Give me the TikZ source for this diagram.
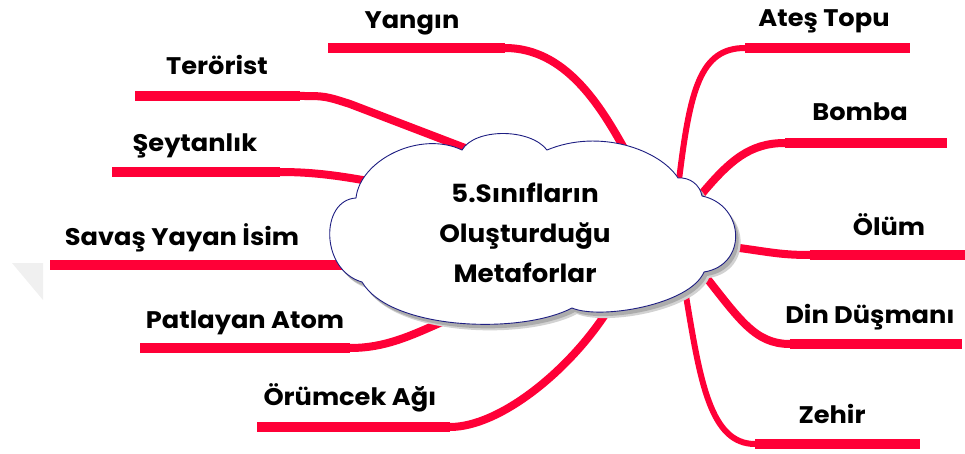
\documentclass[tikz,border=0pt]{standalone}
\usepackage{fontspec}
\setmainfont{Poppins}
\newfontfamily\lblfont[FakeStretch=1.07]{Poppins}
\newfontfamily\ttlfont[FakeStretch=1.05]{Poppins}
\usetikzlibrary{shapes.symbols}
\definecolor{branch}{RGB}{255,0,55}
\definecolor{cloudline}{RGB}{30,30,130}
\tikzset{
  lbl/.style={font=\lblfont\bfseries\fontsize{24}{24}\selectfont, inner sep=0pt, anchor=base},
  ctext/.style={font=\ttlfont\bfseries\fontsize{25}{40}\selectfont, align=center, inner sep=0pt, anchor=base},
  thin branch/.style={draw=branch, line width=8pt, line cap=butt},
  slim branch/.style={draw=branch, line width=6pt, line cap=butt},
  thick branch/.style={draw=branch, line width=10.5pt, line cap=butt},
  cloudpath/.style={insert path={
    (356,198) .. controls (360,160) and (420,130) .. (462,150)
    .. controls (475,128) and (530,128) .. (547,150)
    .. controls (600,128) and (660,150) .. (678,178)
    .. controls (690,177) and (700,185) .. (702,196)
    .. controls (745,205) and (748,265) .. (704,272)
    .. controls (690,305) and (600,320) .. (572,308)
    .. controls (520,335) and (390,330) .. (362,282)
    .. controls (320,270) and (320,200) .. (356,198) -- cycle}},
}
\begin{document}
\begin{tikzpicture}[x=1pt,y=-1pt]
\useasboundingbox (0,0) rectangle (965,454);
\fill[gray!12] (12,263) -- (43,263) -- (43,300) -- cycle;

% label nodes
\node[lbl] (yangin) at (412,29) {Yangın};
\node[lbl] (terorist) at (217,75) {Terörist};
\node[lbl] (seytan) at (195,152) {Şeytanlık};
\node[lbl] (savas) at (182,245) {Savaş Yayan İsim};
\node[lbl] (patlayan) at (245,328) {Patlayan Atom};
\node[lbl] (orumcek) at (350,405) {Örümcek Ağı};
\node[lbl] (ates) at (824,27) {Ateş Topu};
\node[lbl] (bomba) at (860,121) {Bomba};
\node[lbl] (olum) at (889,236) {Ölüm};
\node[lbl] (din) at (870,323) {Din Düşmanı};
\node[lbl] (zehir) at (832,423) {Zehir};

% branch coordinates
\coordinate (yA) at (328,48); \coordinate (yB) at (505,48); \coordinate (yC) at (625,150);
\coordinate (tA) at (135,96); \coordinate (tB) at (300,96); \coordinate (tC) at (465,148);
\coordinate (sA) at (112,172); \coordinate (sB) at (280,172); \coordinate (sC) at (368,181);
\coordinate (vA) at (50,265); \coordinate (vC) at (350,265);
\coordinate (pA) at (140,348); \coordinate (pB) at (350,348); \coordinate (pC) at (442,322);
\coordinate (oA) at (257,427); \coordinate (oB) at (450,427); \coordinate (oC) at (608,310);
\coordinate (aA) at (910,48); \coordinate (aB) at (745,48); \coordinate (aC) at (679,180);
\coordinate (bA) at (947,143); \coordinate (bB) at (785,143); \coordinate (bC) at (700,196);
\coordinate (mA) at (965,255); \coordinate (mB) at (810,255); \coordinate (mC) at (732,247);
\coordinate (dA) at (962,344); \coordinate (dB) at (790,344); \coordinate (dC) at (702,272);
\coordinate (zA) at (920,444); \coordinate (zB) at (755,444); \coordinate (zC) at (686,296);

% branches
\draw[thin branch] (yB) .. controls (565,48) and (600,105) .. (yC);
\draw[thick branch] (yA) -- (yB);
\draw[thin branch] (tB) .. controls (325,96) .. (350,104) -- (tC);
\draw[thick branch] (tA) -- (tB);
\draw[thin branch] (sB) .. controls (310,172) and (335,175) .. (sC);
\draw[thick branch] (sA) -- (sB);
\draw[thick branch] (vA) -- (vC);
\draw[thin branch] (pB) .. controls (385,348) and (410,336) .. (pC);
\draw[thick branch] (pA) -- (pB);
\draw[thin branch] (oB) .. controls (500,427) and (570,370) .. (oC);
\draw[thick branch] (oA) -- (oB);
\draw[slim branch] (aC) .. controls (690,90) and (700,48) .. (aB);
\draw[thick branch] (aB) -- (aA);
\draw[thin branch] (bC) .. controls (730,160) and (750,143) .. (bB);
\draw[thick branch] (bB) -- (bA);
\draw[thin branch] (mC) .. controls (770,252) and (780,255) .. (mB);
\draw[thick branch] (mB) -- (mA);
\draw[thin branch] (dC) .. controls (740,320) and (755,344) .. (dB);
\draw[thick branch] (dB) -- (dA);
\draw[slim branch] (zC) .. controls (700,380) and (710,444) .. (zB);
\draw[thick branch] (zB) -- (zA);

% cloud with shadow
\fill[gray!35, shift={(5,6)}, cloudpath];
\fill[gray!65, shift={(3,4)}, cloudpath];
\draw[cloudline, line width=0.9pt, fill=white, cloudpath];
\node[ctext] (title) at (525,282) {5.Sınıfların\\Oluşturduğu\\Metaforlar};
\end{tikzpicture}
\end{document}
